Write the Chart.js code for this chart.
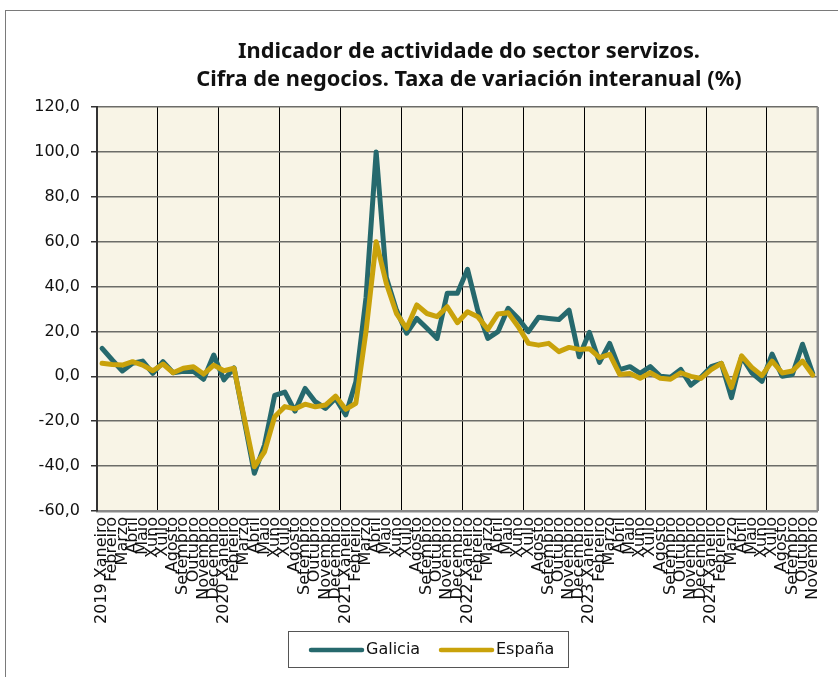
<!DOCTYPE html>
<html><head><meta charset="utf-8">
<script src="https://cdn.jsdelivr.net/npm/chart.js@4/dist/chart.umd.min.js"></script>
<style>
html,body{margin:0;padding:0;background:#fff;overflow:hidden;}
#wrap{position:relative;width:838px;height:677px;}
#frame{position:absolute;left:5px;top:10px;width:900px;height:800px;border:1.5px solid #7a7a7a;box-sizing:border-box;}
canvas{position:absolute;left:0;top:0;}
</style></head><body>
<div id="wrap"><div id="frame"></div><canvas id="c" width="838" height="677"></canvas></div>
<script>
// ---- data ----
const years = ['2019', '2020', '2021', '2022', '2023', '2024'];
const months = ['Xaneiro', 'Febreiro', 'Marzo', 'Abril', 'Maio', 'Xuño', 'Xullo', 'Agosto', 'Setembro', 'Outubro', 'Novembro', 'Decembro'];
const galicia = [
  12.5, 7.3, 2.4, 5.8, 6.8, 1.3, 6.5, 1.6, 2.2, 2.2, -1.3, 9.5,
  -1.6, 3.8, -19.5, -43.2, -30.6, -8.5, -7.0, -15.5, -5.4, -11.3, -14.3, -9.8,
  -17.2, -2.4, 35.0, 100.0, 44.0, 29.5, 19.2, 25.8, 21.4, 16.9, 37.0, 37.0,
  47.7, 29.5, 16.9, 19.9, 30.3, 25.8, 19.9, 26.3, 25.8, 25.3, 29.5, 8.7,
  19.6, 6.2, 14.7, 3.0, 4.3, 1.3, 4.3, 0.0, -0.4, 3.1, -3.9, -0.4,
  4.3, 5.8, -9.5, 8.8, 1.6, -2.2, 9.9, 0.0, 0.8, 14.3, 1.3
];
const espana = [
  5.8, 5.3, 5.0, 6.5, 5.0, 2.5, 5.5, 1.6, 3.6, 4.3, 1.0, 5.0,
  2.5, 3.6, -18.5, -40.3, -33.6, -18.0, -13.5, -14.5, -12.4, -13.6, -12.8, -8.8,
  -14.7, -12.0, 20.0, 60.0, 41.4, 28.0, 21.4, 31.8, 28.0, 26.6, 31.0, 23.9,
  28.8, 26.6, 20.9, 27.8, 28.3, 22.1, 14.7, 13.9, 14.7, 11.0, 12.9, 12.0,
  12.3, 8.3, 9.8, 0.8, 1.3, -0.9, 1.6, -0.9, -1.3, 1.6, 0.0, -0.9,
  3.0, 5.8, -5.0, 9.1, 4.0, 0.3, 6.8, 1.5, 2.4, 6.8, 0.6
];
const seriesNames = ['Galicia', 'España'];
const yTickLabels = ['-60,0', '-40,0', '-20,0', '0,0', '20,0', '40,0', '60,0', '80,0', '100,0', '120,0'];
const titleLines = ['Indicador de actividade do sector servizos.', 'Cifra de negocios. Taxa de variación interanual (%)'];

// categories: one per month, year shown on each January, up to 2024 Novembro
const categories = [];
years.forEach(y => months.forEach((m, i) => {
  if (categories.length < galicia.length) categories.push(i === 0 ? y + ' ' + m : m);
}));

const COL_GAL = '#26696d';
const COL_ESP = '#c9a20b';
const FONT = '"DejaVu Sans", sans-serif';

const decor = {
  id: 'decor',
  beforeDraw(chart) {
    const {ctx, chartArea: a} = chart;
    ctx.save();
    ctx.fillStyle = '#f8f4e6';
    ctx.fillRect(a.left, a.top, a.right - a.left, a.bottom - a.top);
    ctx.restore();
  },
  afterDraw(chart) {
    const {ctx, chartArea: a} = chart;
    ctx.save();
    // right frame of plot
    ctx.strokeStyle = '#8a8a8a';
    ctx.lineWidth = 2.5;
    ctx.beginPath();
    ctx.moveTo(a.right, a.top); ctx.lineTo(a.right, a.bottom);
    ctx.stroke();
    // title
    ctx.fillStyle = '#111';
    ctx.font = 'bold 21.8px "Noto Sans", sans-serif';
    ctx.textAlign = 'center';
    ctx.textBaseline = 'alphabetic';
    titleLines.forEach((t, i) => ctx.fillText(t, 469, 58 + i * 28));
    // legend
    ctx.strokeStyle = '#555';
    ctx.lineWidth = 1;
    ctx.strokeRect(288.5, 631.5, 280, 36);
    const items = [{x: 311}, {x: 441}];
    ctx.font = '16px ' + FONT;
    ctx.textAlign = 'left';
    ctx.textBaseline = 'middle';
    chart.data.datasets.forEach((ds, i) => {
      const x0 = items[i].x;
      ctx.strokeStyle = ds.borderColor;
      ctx.lineWidth = 4.5;
      ctx.lineCap = 'round';
      ctx.beginPath();
      ctx.moveTo(x0, 650); ctx.lineTo(x0 + 51, 650);
      ctx.stroke();
      ctx.fillStyle = '#111';
      ctx.fillText(ds.label, x0 + 55, 650);
    });
    ctx.restore();
  }
};

new Chart(document.getElementById('c'), {
  type: 'line',
  data: {
    labels: categories,
    datasets: [
      {label: seriesNames[0], data: galicia, borderColor: COL_GAL, backgroundColor: COL_GAL, order: 2},
      {label: seriesNames[1], data: espana, borderColor: COL_ESP, backgroundColor: COL_ESP, order: 1}
    ]
  },
  options: {
    responsive: false,
    animation: false,
    events: [],
    layout: {padding: {left: 0, right: 18, top: 107, bottom: 46}},
    elements: {
      line: {borderWidth: 5, tension: 0, borderJoinStyle: 'round', borderCapStyle: 'round'},
      point: {radius: 0}
    },
    plugins: {legend: {display: false}, title: {display: false}, tooltip: {enabled: false}},
    scales: {
      x: {
        offset: true,
        afterFit(s) { s.height = 120; },
        grid: {
          offset: true,
          drawTicks: false,
          color: c => (c.index !== undefined && c.index % 6 === 0) ? '#000' : 'rgba(0,0,0,0)',
          lineWidth: 1
        },
        border: {display: true, color: '#8a8a8a', width: 2.5},
        ticks: {
          autoSkip: false, maxRotation: 90, minRotation: 90, padding: 6,
          color: '#111', font: {family: FONT, size: 16}
        }
      },
      y: {
        min: -60, max: 120,
        afterFit(s) { s.width = 97; },
        grid: {color: '#6c6c68', lineWidth: 1.5, tickLength: 6, tickColor: '#333'},
        border: {display: true, color: '#333', width: 2},
        ticks: {
          stepSize: 20, padding: 11, color: '#111',
          font: {family: FONT, size: 16},
          callback: (v, i) => yTickLabels[i]
        }
      }
    }
  },
  plugins: [decor]
});
</script>
</body></html>
